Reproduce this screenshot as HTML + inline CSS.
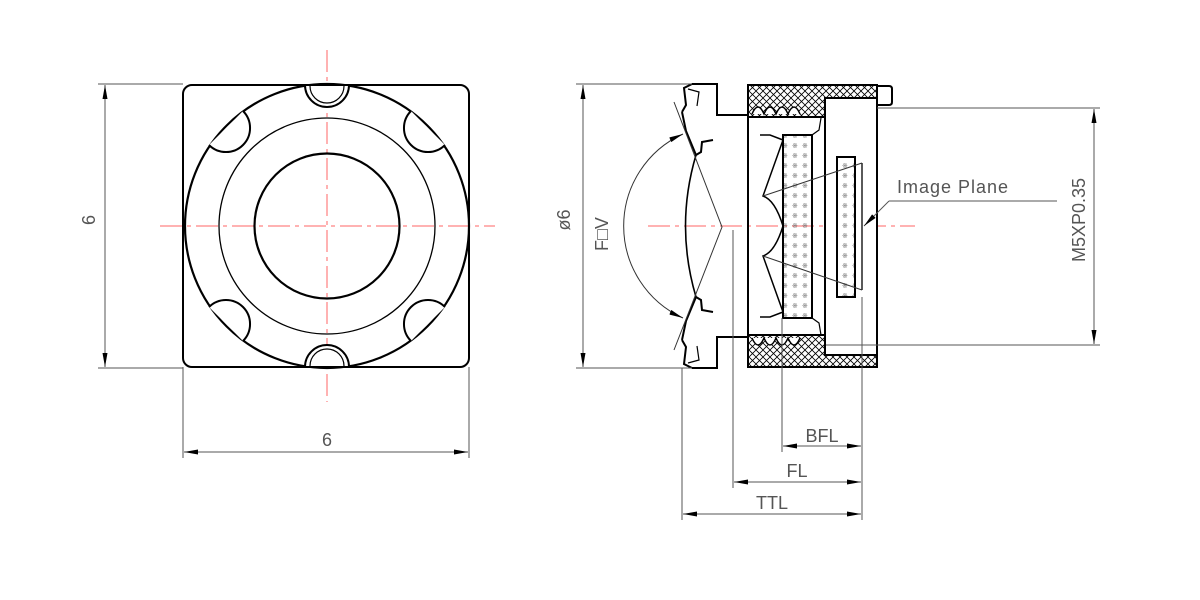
<!DOCTYPE html>
<html><head><meta charset="utf-8"><style>
html,body{margin:0;padding:0;background:#fff;width:1200px;height:600px;overflow:hidden}
svg{display:block}
text{font-family:"Liberation Sans",sans-serif;fill:#555}
</style></head><body>
<svg width="1200" height="600" viewBox="0 0 1200 600" xmlns="http://www.w3.org/2000/svg">
<defs>
<pattern id="hx" width="7" height="7" patternUnits="userSpaceOnUse">
<path d="M0,0 L7,7 M7,0 L0,7" stroke="#000" stroke-width="0.8"/>
</pattern>
<pattern id="dt" width="10" height="10" patternUnits="userSpaceOnUse">
<text x="2" y="8" font-size="7" style="fill:#666">※</text>
</pattern>
<marker id="ar" viewBox="0 0 14 5" refX="14" refY="2.5" markerWidth="14" markerHeight="5" orient="auto-start-reverse" markerUnits="userSpaceOnUse">
<path d="M0,0 L14,2.5 L0,5 Z" fill="#000"/>
</marker>
</defs>

<!-- LEFT VIEW -->
<g stroke="#f66" stroke-width="1" stroke-dasharray="22,5,4,5" fill="none">
<line x1="160" y1="226" x2="495" y2="226"/>
<line x1="327" y1="50" x2="327" y2="402"/>
</g>
<rect x="183" y="85" width="286" height="282" rx="9" fill="none" stroke="#000" stroke-width="2"/>
<g fill="none" stroke="#000">
<circle cx="327" cy="226" r="142" stroke-width="2.2"/>
<circle cx="327" cy="226" r="108" stroke-width="1.3"/>
<circle cx="327" cy="226" r="72.5" stroke-width="2.2"/>
</g>
<g fill="#fff" stroke="#000" stroke-width="2">
<path d="M305,85 A22,22 0 0 0 349,85 Z"/>
<path d="M305,367 A22,22 0 0 1 349,367 Z"/>
<path d="M310,86 A17,17 0 0 0 344,86" fill="none" stroke-width="1.2"/>
<path d="M310,366 A17,17 0 0 1 344,366" fill="none" stroke-width="1.2"/>
<path d="M243,111 A24,24 0 0 1 209,145"/>
<path d="M411,111 A24,24 0 0 0 445,145"/>
<path d="M243,341 A24,24 0 0 0 209,307"/>
<path d="M411,341 A24,24 0 0 1 445,307"/>
</g>
<g stroke="#555" stroke-width="1" fill="none">
<line x1="98" y1="84" x2="183" y2="84"/>
<line x1="98" y1="368" x2="183" y2="368"/>
<line x1="105" y1="85" x2="105" y2="367" marker-start="url(#ar)" marker-end="url(#ar)"/>
<line x1="183" y1="367" x2="183" y2="458"/>
<line x1="469" y1="367" x2="469" y2="458"/>
<line x1="184" y1="452" x2="468" y2="452" marker-start="url(#ar)" marker-end="url(#ar)"/>
</g>
<text x="101" y="226" font-size="18" text-anchor="middle" transform="rotate(-90 95 226)">6</text>
<text x="327" y="446" font-size="18" text-anchor="middle">6</text>

<!-- RIGHT VIEW -->
<line x1="648" y1="226" x2="915" y2="226" stroke="#f66" stroke-width="1" stroke-dasharray="22,5,4,5"/>
<path d="M748,85 H877 V367 H748 Z M748,117 V335 H825 V355 H877 V98 H825 V117 Z" fill="url(#hx)" fill-rule="evenodd" stroke="none"/>
<g fill="none" stroke="#000" stroke-width="2">
<rect x="748" y="85" width="129" height="282"/>
<rect x="825" y="98" width="52" height="257" fill="#fff"/>
<line x1="748" y1="117" x2="825" y2="117"/>
<line x1="748" y1="335" x2="825" y2="335"/>
<path d="M877,86 H889 Q892,86 892,89 V102 Q892,105 889,105 H877"/>
<path d="M752,114 q6,-14 12,0 q6,-14 12,0 q6,-14 12,0 q6,-14 12,0" stroke-width="1.5" fill="#fff"/>
<path d="M752,338 q6,14 12,0 q6,14 12,0 q6,14 12,0 q6,14 12,0" stroke-width="1.5" fill="#fff"/>
</g>
<g fill="none" stroke="#000" stroke-width="2">
<path d="M692,84 H717 V115 H748"/>
<path d="M692,368 H717 V337 H748"/>
<path d="M692,84 L684,88 L686,105 L682,112"/>
<path d="M692,368 L684,364 L686,347 L682,340"/>
<path d="M682,112 L686,131 L696,155"/>
<path d="M682,340 L686,321 L696,297"/>
<path d="M696,155 L701,152 L702,142 L713,140"/>
<path d="M696,297 L701,300 L702,310 L713,312"/>
<path d="M688,89 L699,92 L697,106" stroke-width="1.2"/>
<path d="M688,363 L699,360 L697,346" stroke-width="1.2"/>
<path d="M696,155 Q675,226 696,297" stroke-width="1.6"/>
</g>
<g fill="none" stroke="#333" stroke-width="1">
<path d="M674,102 L722,227 L674,350"/>
<path d="M683,134 A101,101 0 0 0 683,318" marker-start="url(#ar)" marker-end="url(#ar)"/>
</g>
<g fill="none" stroke="#000" stroke-width="2">
<rect x="783" y="135" width="29" height="183" fill="url(#dt)"/>
<rect x="837" y="157" width="18" height="140" fill="url(#dt)"/>
<line x1="862" y1="163" x2="862" y2="290" stroke-width="1.3"/>
<path d="M760,135 H770 L783,140" stroke-width="1.5"/>
<path d="M760,317 H770 L783,312" stroke-width="1.5"/>
<path d="M812,135 L819,130 L821,118" stroke-width="1.2"/>
<path d="M812,318 L819,323 L821,335" stroke-width="1.2"/>
<path d="M783,140 L763,196 Q775,200 783,226 Q775,252 763,256 L783,312" stroke-width="1.5"/>
</g>
<g stroke="#333" stroke-width="1" fill="none">
<line x1="763" y1="196" x2="862" y2="163"/>
<line x1="763" y1="256" x2="862" y2="290"/>
</g>
<g stroke="#555" stroke-width="1" fill="none">
<line x1="576" y1="84" x2="692" y2="84"/>
<line x1="576" y1="368" x2="692" y2="368"/>
<line x1="583" y1="85" x2="583" y2="367" marker-start="url(#ar)" marker-end="url(#ar)"/>
<line x1="877" y1="108" x2="1100" y2="108"/>
<line x1="826" y1="345" x2="1100" y2="345"/>
<line x1="1094" y1="109" x2="1094" y2="344" marker-start="url(#ar)" marker-end="url(#ar)"/>
<line x1="1057" y1="201" x2="889" y2="201"/>
<line x1="889" y1="201" x2="864" y2="226" marker-end="url(#ar)"/>
<line x1="682" y1="368" x2="682" y2="520"/>
<line x1="733" y1="230" x2="733" y2="488"/>
<line x1="782" y1="318" x2="782" y2="452"/>
<line x1="862" y1="297" x2="862" y2="520"/>
<line x1="783" y1="446" x2="861" y2="446" marker-start="url(#ar)" marker-end="url(#ar)"/>
<line x1="734" y1="482" x2="861" y2="482" marker-start="url(#ar)" marker-end="url(#ar)"/>
<line x1="683" y1="514" x2="861" y2="514" marker-start="url(#ar)" marker-end="url(#ar)"/>
</g>
<text x="576" y="226" font-size="18" text-anchor="middle" transform="rotate(-90 570 226)">ø6</text>
<text x="614" y="240" font-size="18" text-anchor="middle" transform="rotate(-90 608 240)">F□V</text>
<text x="1091" y="226" font-size="18" text-anchor="middle" transform="rotate(-90 1085 226)">M5XP0.35</text>
<text x="897" y="193" font-size="18" letter-spacing="1">Image Plane</text>
<text x="822" y="442" font-size="18" text-anchor="middle">BFL</text>
<text x="797" y="477" font-size="18" text-anchor="middle">FL</text>
<text x="772" y="509" font-size="18" text-anchor="middle">TTL</text>
</svg>
</body></html>
